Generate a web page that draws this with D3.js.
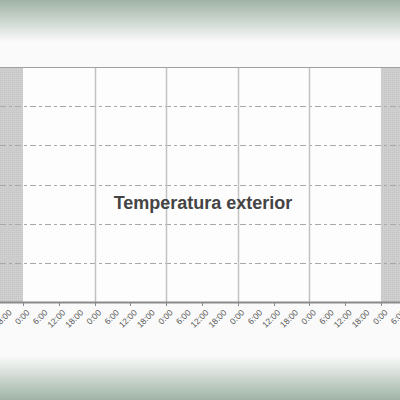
<!DOCTYPE html>
<html><head><meta charset="utf-8">
<script src="https://cdn.jsdelivr.net/npm/d3@7"></script>
<style>html,body{margin:0;padding:0;background:#fafafa;}svg{display:block;}</style>
</head><body>
<script>
const title = "Temperatura exterior";
const days = ["2024-01-01","2024-01-02","2024-01-03","2024-01-04","2024-01-05","2024-01-06"];
const viewStart = "2023-12-31T16:18";
const viewEnd = "2024-01-06T06:24";
const yDomain = [0, 30];
const yGrid = [5, 10, 15, 20, 25];
const tickHours = 6;

(function(){
const W = 400, H = 400;
const parse = d3.isoParse;
const dayDates = days.map(d => parse(d + "T00:00"));
const svg = d3.select("body").append("svg").attr("width", W).attr("height", H);
const defs = svg.append("defs");
const gt = defs.append("linearGradient").attr("id","gt").attr("x1",0).attr("y1",0).attr("x2",0).attr("y2",1);
gt.append("stop").attr("offset","0%").attr("stop-color","#9fb3a5");
gt.append("stop").attr("offset","100%").attr("stop-color","#fafafa");
const gb = defs.append("linearGradient").attr("id","gb").attr("x1",0).attr("y1",0).attr("x2",0).attr("y2",1);
gb.append("stop").attr("offset","0%").attr("stop-color","#fafafa");
gb.append("stop").attr("offset","100%").attr("stop-color","#9fb3a5");
const pat = defs.append("pattern").attr("id","stip").attr("width",2).attr("height",2).attr("patternUnits","userSpaceOnUse");
pat.append("rect").attr("width",2).attr("height",2).attr("fill","#cfcfcf");
pat.append("rect").attr("width",1).attr("height",1).attr("fill","#c4c4c4");

svg.append("rect").attr("width",W).attr("height",H).attr("fill","#fafafa");
svg.append("rect").attr("x",0).attr("y",0).attr("width",W).attr("height",42).attr("fill","url(#gt)");
svg.append("rect").attr("x",0).attr("y",356).attr("width",W).attr("height",44).attr("fill","url(#gb)");

const pTop = 67, pBottom = 302;
const x = d3.scaleTime().domain([parse(viewStart), parse(viewEnd)]).range([0, W]);
const y = d3.scaleLinear().domain(yDomain).range([pBottom, pTop]);

svg.append("rect").attr("x",0).attr("y",pTop).attr("width",W).attr("height",pBottom-pTop).attr("fill","#fdfdfd");
const d0 = dayDates[0], d1 = dayDates[dayDates.length-1];
svg.append("rect").attr("x",x(parse(viewStart))).attr("y",pTop).attr("width",x(d0)-x(parse(viewStart))).attr("height",pBottom-pTop).attr("fill","url(#stip)");
svg.append("rect").attr("x",x(d1)).attr("y",pTop).attr("width",x(parse(viewEnd))-x(d1)).attr("height",pBottom-pTop).attr("fill","url(#stip)");

svg.append("g").selectAll("line").data(yGrid).join("line")
  .attr("x1",0).attr("x2",W).attr("y1",d=>Math.round(y(d))+0.5).attr("y2",d=>Math.round(y(d))+0.5)
  .attr("stroke","#a8a8a8").attr("stroke-width",1).attr("stroke-dasharray","6,3,3,3");

svg.append("g").selectAll("line").data(dayDates.slice(1,-1)).join("line")
  .attr("x1",d=>Math.round(x(d))+0.5).attr("x2",d=>Math.round(x(d))+0.5).attr("y1",pTop).attr("y2",pBottom)
  .attr("stroke","#c2c2c2").attr("stroke-width",1.5);

svg.append("line").attr("x1",0).attr("x2",W).attr("y1",pTop+0.5).attr("y2",pTop+0.5).attr("stroke","#a0a0a0").attr("stroke-width",1);

const ticks = d3.timeHour.every(tickHours).range(parse(viewStart), parse(viewEnd));
const ax = svg.append("g").attr("transform",`translate(0,${pBottom})`);
ax.append("line").attr("x1",0).attr("x2",W).attr("y1",0.5).attr("y2",0.5).attr("stroke","#8a8a8a").attr("stroke-width",2);
ax.selectAll("line.t").data(ticks.filter(t=>t.getHours()%12===0)).join("line").attr("class","t")
  .attr("x1",d=>Math.round(x(d))+0.5).attr("x2",d=>Math.round(x(d))+0.5).attr("y1",1).attr("y2",4)
  .attr("stroke","#8a8a8a");
const fmt = d3.timeFormat("%-H:%M");
ax.selectAll("text").data(ticks).join("text")
  .attr("transform",d=>`translate(${x(d)+3},${7}) rotate(-45)`)
  .attr("text-anchor","end").attr("dy","0.7em")
  .attr("font-family","'Liberation Sans', Arial, sans-serif").attr("font-size",8.5)
  .attr("fill","#555").text(d=>fmt(d));

svg.append("text").attr("x",203).attr("y",209).attr("text-anchor","middle")
  .attr("font-family","'Liberation Sans', Arial, sans-serif").attr("font-weight","bold").attr("font-size",18)
  .attr("fill","#444").text(title);
})();
</script>
</body></html>
